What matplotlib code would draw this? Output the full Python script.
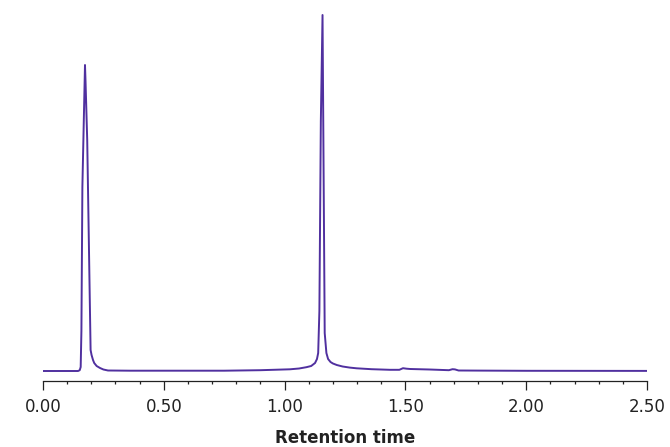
import numpy as np
import matplotlib
matplotlib.use("Agg")
import matplotlib.pyplot as plt
from matplotlib.ticker import MultipleLocator, FormatStrFormatter

# ── DATA ─────────────────────────────────────────────────────────────────────
time = [0.000, 0.145, 0.152, 0.156, 0.159, 0.163, 0.1738, 0.176, 0.183, 0.197,
        0.201, 0.207, 0.212, 0.222, 0.236, 0.250, 0.269, 0.360, 0.750, 0.900,
        1.022, 1.060, 1.090, 1.110, 1.126, 1.134, 1.139, 1.144, 1.150, 1.157,
        1.160, 1.166, 1.173, 1.180, 1.190, 1.200, 1.216, 1.240, 1.270, 1.298,
        1.360, 1.436, 1.475, 1.490, 1.505, 1.520, 1.600, 1.680, 1.695, 1.705,
        1.720, 1.800, 2.000, 2.500]
signal = [0.0, 0.0, 0.8, 4.0, 40.0, 184.0, 306.0, 290.0, 231.0, 21.0,
          16.0, 11.0, 8.0, 5.0, 3.0, 1.5, 0.5, 0.3, 0.3, 0.8,
          1.7, 2.5, 3.8, 5.0, 8.0, 12.0, 18.0, 60.0, 250.0, 356.0,
          250.0, 38.0, 18.0, 12.0, 9.0, 7.5, 6.0, 4.5, 3.4, 2.7,
          1.8, 1.2, 1.2, 2.8, 2.3, 2.0, 1.5, 0.8, 1.8, 1.6,
          0.5, 0.4, 0.2, 0.1]

LINE_COLOR = "#50309f"

# ── PLOT ──────────────────────────────────────────────────────────────────────
fig = plt.figure(figsize=(6.7, 4.47), dpi=100)
ax = fig.add_axes([43 / 670, (447 - 381) / 447, 604 / 670, 371 / 447])

ax.plot(time, signal, color=LINE_COLOR, lw=1.4, solid_joinstyle="round")

ax.set_xlim(0, 2.5)
ax.set_ylim(-10, 361)

for s in ["left", "right", "top"]:
    ax.spines[s].set_visible(False)
ax.spines["bottom"].set_linewidth(0.9)
ax.spines["bottom"].set_color("#222222")

ax.set_yticks([])
ax.xaxis.set_major_locator(MultipleLocator(0.5))
ax.xaxis.set_minor_locator(MultipleLocator(0.1))
ax.xaxis.set_major_formatter(FormatStrFormatter("%.2f"))
ax.tick_params(axis="x", which="major", length=6.5, width=0.9,
               color="#222222", labelsize=12, pad=6, labelcolor="#222222")
ax.tick_params(axis="x", which="minor", length=2.5, width=0.9, color="#222222")

ax.set_xlabel("Retention time", fontsize=12, fontweight="bold",
              color="#222222", labelpad=9)

fig.savefig("out.png", dpi=100)
